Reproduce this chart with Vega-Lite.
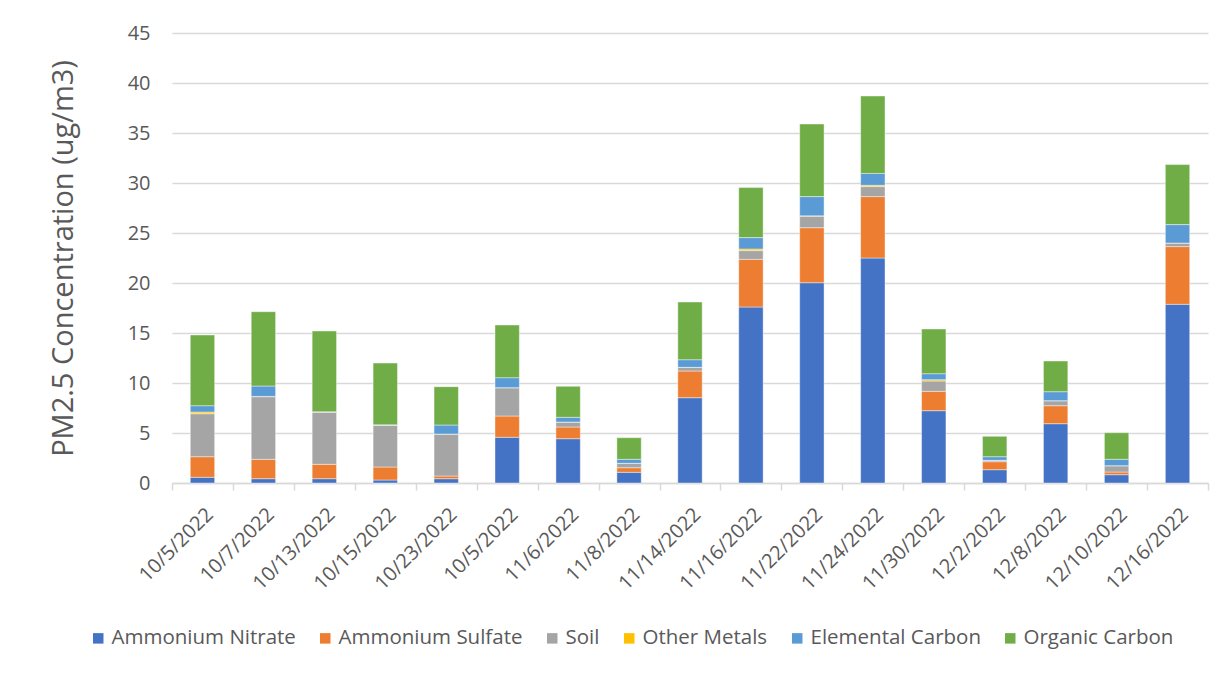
{
  "$schema": "https://vega.github.io/schema/vega-lite/v6.json",
  "autosize": {"type": "none"},
  "width": 1036,
  "height": 450,
  "padding": {"left": 172, "top": 33, "right": 24, "bottom": 192},
  "background": "white",
  "config": {
    "font": "Open Sans",
    "view": {"stroke": null},
    "axis": {"labelColor": "#595959", "titleColor": "#595959", "labelFont": "Open Sans", "titleFont": "Open Sans"}
  },
  "datasets": {
    "components": [
      {"component": "Ammonium Nitrate", "rank": 1},
      {"component": "Ammonium Sulfate", "rank": 2},
      {"component": "Soil", "rank": 3},
      {"component": "Other Metals", "rank": 4},
      {"component": "Elemental Carbon", "rank": 5},
      {"component": "Organic Carbon", "rank": 6}
    ]
  },
  "data": {
    "values": [
      {"sample": "01|10/5/2022", "Ammonium Nitrate": 0.57, "Ammonium Sulfate": 2.06, "Soil": 4.3, "Other Metals": 0.17, "Elemental Carbon": 0.63, "Organic Carbon": 7.07},
      {"sample": "02|10/7/2022", "Ammonium Nitrate": 0.43, "Ammonium Sulfate": 1.94, "Soil": 6.26, "Other Metals": 0.03, "Elemental Carbon": 1.04, "Organic Carbon": 7.43},
      {"sample": "03|10/13/2022", "Ammonium Nitrate": 0.43, "Ammonium Sulfate": 1.44, "Soil": 5.23, "Other Metals": 0, "Elemental Carbon": 0.03, "Organic Carbon": 8.07},
      {"sample": "04|10/15/2022", "Ammonium Nitrate": 0.3, "Ammonium Sulfate": 1.3, "Soil": 4.2, "Other Metals": 0, "Elemental Carbon": 0.02, "Organic Carbon": 6.17},
      {"sample": "05|10/23/2022", "Ammonium Nitrate": 0.43, "Ammonium Sulfate": 0.27, "Soil": 4.2, "Other Metals": 0, "Elemental Carbon": 0.9, "Organic Carbon": 3.83},
      {"sample": "06|10/5/2022", "Ammonium Nitrate": 4.57, "Ammonium Sulfate": 2.13, "Soil": 2.83, "Other Metals": 0, "Elemental Carbon": 1.0, "Organic Carbon": 5.27},
      {"sample": "07|11/6/2022", "Ammonium Nitrate": 4.43, "Ammonium Sulfate": 1.17, "Soil": 0.5, "Other Metals": 0, "Elemental Carbon": 0.47, "Organic Carbon": 3.1},
      {"sample": "08|11/8/2022", "Ammonium Nitrate": 1.07, "Ammonium Sulfate": 0.46, "Soil": 0.44, "Other Metals": 0, "Elemental Carbon": 0.4, "Organic Carbon": 2.16},
      {"sample": "09|11/14/2022", "Ammonium Nitrate": 8.53, "Ammonium Sulfate": 2.67, "Soil": 0.37, "Other Metals": 0, "Elemental Carbon": 0.76, "Organic Carbon": 5.77},
      {"sample": "10|11/16/2022", "Ammonium Nitrate": 17.6, "Ammonium Sulfate": 4.77, "Soil": 0.87, "Other Metals": 0.16, "Elemental Carbon": 1.14, "Organic Carbon": 5.0},
      {"sample": "11|11/22/2022", "Ammonium Nitrate": 20.03, "Ammonium Sulfate": 5.5, "Soil": 1.16, "Other Metals": 0.03, "Elemental Carbon": 1.92, "Organic Carbon": 7.26},
      {"sample": "12|11/24/2022", "Ammonium Nitrate": 22.5, "Ammonium Sulfate": 6.14, "Soil": 1.0, "Other Metals": 0.13, "Elemental Carbon": 1.19, "Organic Carbon": 7.74},
      {"sample": "13|11/30/2022", "Ammonium Nitrate": 7.23, "Ammonium Sulfate": 1.94, "Soil": 1.03, "Other Metals": 0.13, "Elemental Carbon": 0.6, "Organic Carbon": 4.47},
      {"sample": "14|12/2/2022", "Ammonium Nitrate": 1.33, "Ammonium Sulfate": 0.8, "Soil": 0.14, "Other Metals": 0, "Elemental Carbon": 0.36, "Organic Carbon": 2.04},
      {"sample": "15|12/8/2022", "Ammonium Nitrate": 5.93, "Ammonium Sulfate": 1.8, "Soil": 0.5, "Other Metals": 0, "Elemental Carbon": 0.9, "Organic Carbon": 3.07},
      {"sample": "16|12/10/2022", "Ammonium Nitrate": 0.83, "Ammonium Sulfate": 0.27, "Soil": 0.63, "Other Metals": 0, "Elemental Carbon": 0.64, "Organic Carbon": 2.66},
      {"sample": "17|12/16/2022", "Ammonium Nitrate": 17.87, "Ammonium Sulfate": 5.77, "Soil": 0.36, "Other Metals": 0, "Elemental Carbon": 1.84, "Organic Carbon": 6.0}
    ]
  },
  "transform": [
    {"fold": ["Ammonium Nitrate", "Ammonium Sulfate", "Soil", "Other Metals", "Elemental Carbon", "Organic Carbon"], "as": ["component", "conc"]},
    {"lookup": "component", "from": {"data": {"name": "components"}, "key": "component", "fields": ["rank"]}}
  ],
  "mark": {"type": "bar", "width": {"band": 0.4}, "stroke": "white", "strokeWidth": 0.6, "strokeOpacity": 0.7},
  "encoding": {
    "x": {
      "field": "sample",
      "type": "nominal",
      "sort": "ascending",
      "scale": {"paddingInner": 0, "paddingOuter": 0},
      "axis": {
        "title": null,
        "labelExpr": "split(datum.value, '|')[1]",
        "labelAngle": -45,
        "labelFontSize": 20,
        "labelPadding": 14,
        "tickBand": "extent",
        "tickSize": 7,
        "tickColor": "#d9d9d9",
        "tickWidth": 1.5,
        "domainColor": "#d9d9d9",
        "domainWidth": 1.5,
        "grid": false
      }
    },
    "y": {
      "field": "conc",
      "type": "quantitative",
      "stack": "zero",
      "scale": {"domain": [0, 45]},
      "axis": {
        "title": "PM2.5 Concentration (ug/m3)",
        "values": [0, 5, 10, 15, 20, 25, 30, 35, 40, 45],
        "labelFontSize": 20,
        "labelPadding": 22,
        "domain": false,
        "ticks": false,
        "grid": true,
        "gridColor": "#d9d9d9",
        "gridWidth": 1.5,
        "titleFontSize": 29,
        "titleFontWeight": "normal",
        "titleX": -109,
        "titleY": 225,
        "titleAngle": -90,
        "titleAlign": "center",
        "titleBaseline": "middle"
      }
    },
    "color": {
      "field": "component",
      "type": "nominal",
      "scale": {
        "domain": ["Ammonium Nitrate", "Ammonium Sulfate", "Soil", "Other Metals", "Elemental Carbon", "Organic Carbon"],
        "range": ["#4472C4", "#ED7D31", "#A5A5A5", "#FFC000", "#5B9BD5", "#70AD47"]
      },
      "legend": {
        "title": null,
        "orient": "none",
        "direction": "horizontal",
        "legendX": -84,
        "legendY": 595,
        "symbolType": "square",
        "symbolSize": 110,
        "symbolStrokeWidth": 0,
        "labelFontSize": 20.5,
        "labelColor": "#595959",
        "labelFont": "Open Sans",
        "labelOffset": 3,
        "columnPadding": 19,
        "padding": 0,
        "labelLimit": 400
      }
    },
    "order": {"field": "rank", "type": "quantitative", "sort": "ascending"}
  }
}
